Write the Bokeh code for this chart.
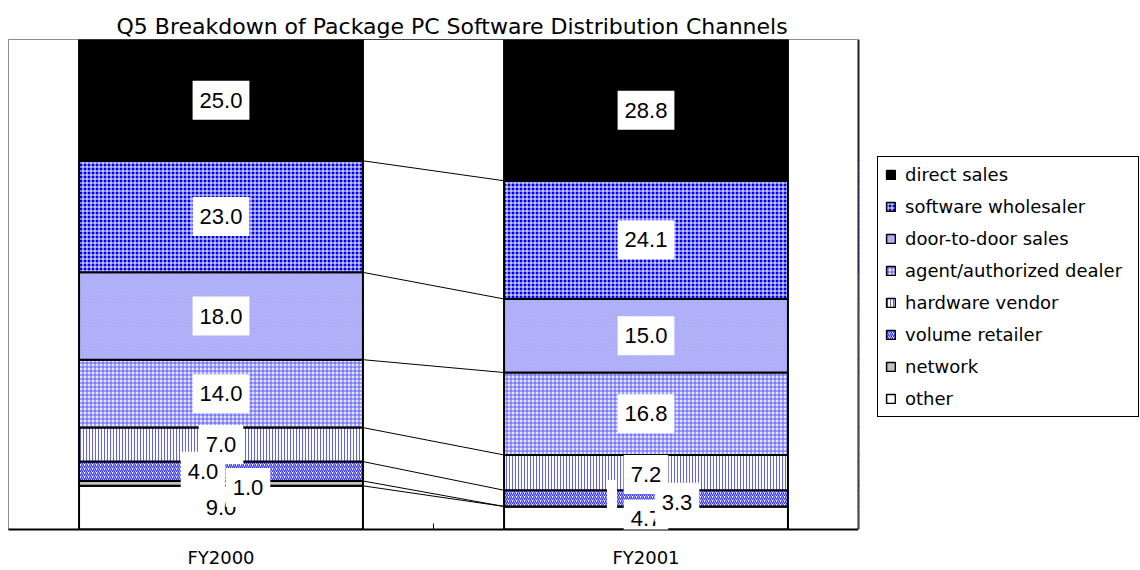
from bokeh.plotting import figure
from bokeh.models import (ColumnDataSource, Range1d, FixedTicker, Legend, LegendItem, Label)
from bokeh.layouts import row
from bokeh.embed import file_html
from bokeh.resources import INLINE
import numpy as np

# ---------------- data ----------------
title_text = "Q5 Breakdown of Package PC Software Distribution Channels"
years = ["FY2000", "FY2001"]
channels = ["other", "network", "volume retailer", "hardware vendor",
            "agent/authorized dealer", "door-to-door sales",
            "software wholesaler", "direct sales"]
fy2000 = [9.0, 1.0, 4.0, 7.0, 14.0, 18.0, 23.0, 25.0]
fy2001 = [4.7, 0.0, 3.3, 7.2, 16.8, 15.0, 24.1, 28.8]
labels_fy2000 = ["9.0", "1.0", "4.0", "7.0", "14.0", "18.0", "23.0", "25.0"]
labels_fy2001 = ["4.7", " ", "3.3", "7.2", "16.8", "15.0", "24.1", "28.8"]

# ---------------- styles ----------------
FONT = "Liberation Sans"
WIDE_FONT = "DejaVu Sans"
BAR_W = 0.668
styles = {
    "other": dict(fill_color="white"),
    "network": dict(fill_color="#c0c0c0"),
    "volume retailer": dict(fill_color="white", hatch_pattern="right_diagonal_line",
                            hatch_color="#3030ff", hatch_scale=4, hatch_weight=1.3),
    "hardware vendor": dict(fill_color="white", hatch_pattern="vertical_line",
                            hatch_color="#6060ff", hatch_scale=3, hatch_weight=1),
    "agent/authorized dealer": dict(fill_color="#e8e8ff", hatch_pattern="cross",
                                    hatch_color="#5858ff", hatch_scale=4, hatch_weight=1),
    "door-to-door sales": dict(fill_color="#c8c8ff", hatch_pattern="left_diagonal_line",
                               hatch_color="#a0a0f4", hatch_scale=3, hatch_weight=1),
    "software wholesaler": dict(fill_color="#0000f0", hatch_pattern="cross",
                                hatch_color="white", hatch_scale=4, hatch_weight=1),
    "direct sales": dict(fill_color="black"),
}
# label offsets in screen px, keyed by (year index, channel)
label_offsets = {
    (0, "volume retailer"): (-18, 0),
    (0, "network"): (27, -4),
    (1, "volume retailer"): (31, -4),
    (1, "network"): (-34, 10),
    (1, "other"): (0, -1),
    (1, "hardware vendor"): (0, -2),
}
LABEL_PAD = dict(x=7, y=12)
label_padding = {(1, "network"): dict(x=2, y=4)}

# ---------------- computation ----------------
vals = np.array([fy2000, fy2001], dtype=float)
pct = vals / vals.sum(axis=1, keepdims=True) * 100.0
tops = np.cumsum(pct, axis=1)
bottoms = tops - pct
xcent = np.arange(len(years)) + 0.5
texts = [labels_fy2000, labels_fy2001]

# ---------------- main chart ----------------
p = figure(width=858, height=570, x_range=Range1d(0, 2), y_range=Range1d(0, 100),
           output_backend="svg", toolbar_location=None, y_axis_location=None,
           min_border_left=8, min_border_right=0, min_border_top=39, min_border_bottom=41,
           background_fill_color="white", border_fill_color="white")
p.grid.visible = False
p.outline_line_color = "#8c8c8c"
p.outline_line_width = 1

sources = {}
for j, ch in enumerate(channels):
    src = ColumnDataSource(dict(x=xcent, top=tops[:, j], bottom=bottoms[:, j]))
    sources[ch] = src
    p.vbar(x="x", top="top", bottom="bottom", width=BAR_W, source=src,
           line_color="black", line_width=2, **styles[ch])

# connector (series) lines between the two bars
seg = ColumnDataSource(dict(x0=[xcent[0] + BAR_W / 2] * len(channels), y0=tops[0],
                            x1=[xcent[1] - BAR_W / 2] * len(channels), y1=tops[1]))
p.segment(x0="x0", y0="y0", x1="x1", y1="y1", source=seg, line_color="black", line_width=1)

# data labels
for j, ch in enumerate(channels):
    for i in range(len(years)):
        dx, dy = label_offsets.get((i, ch), (0, 0))
        p.add_layout(Label(x=xcent[i], y=(tops[i, j] + bottoms[i, j]) / 2,
                           text=texts[i][j], x_offset=dx, y_offset=dy,
                           text_align="center", text_baseline="middle",
                           text_font=FONT, text_font_size="22px", text_color="black",
                           background_fill_color="white",
                           padding=label_padding.get((i, ch), LABEL_PAD)))

# x axis
ax = p.xaxis[0]
ax.ticker = FixedTicker(ticks=list(xcent), minor_ticks=[1.0])
ax.major_label_overrides = {float(x): y for x, y in zip(xcent, years)}
ax.major_tick_in = 0
ax.major_tick_out = 0
ax.minor_tick_in = 6
ax.minor_tick_out = 0
ax.minor_tick_line_color = "black"
ax.axis_line_color = "black"
ax.axis_line_width = 2
ax.axis_label = None
ax.axis_label_standoff = 0
ax.major_label_standoff = 17
ax.major_label_text_font = WIDE_FONT
ax.major_label_text_font_size = "18px"
ax.major_label_text_color = "black"

# title
p.title.text = title_text
p.title.align = "left"
p.title.offset = 108
p.title.text_font = WIDE_FONT
p.title.text_font_size = "22px"
p.title.text_font_style = "normal"
p.title.text_color = "black"
p.title.standoff = 2

# ---------------- legend panel ----------------
# the same bar data, drawn out of view (x range far away) -- only the legend is visible here
lg = figure(width=282, height=570, x_range=Range1d(10, 11), y_range=Range1d(0, 100),
            output_backend="svg", toolbar_location=None,
            x_axis_location=None, y_axis_location=None,
            min_border=0, outline_line_color=None,
            background_fill_color="white", border_fill_color="white")
lg.grid.visible = False
items = []
for ch in reversed(channels):
    r = lg.vbar(x="x", top="top", bottom="bottom", width=BAR_W, source=sources[ch],
                line_color="black", line_width=1.5, **styles[ch])
    items.append(LegendItem(label=ch, renderers=[r]))
legend = Legend(items=items, location=(19, 112), orientation="vertical",
                label_text_font=WIDE_FONT, label_text_font_size="18px",
                label_text_color="black",
                glyph_width=11, glyph_height=11, label_height=21, spacing=11,
                padding=7, margin=0, label_standoff=9, label_width=226,
                border_line_color="black", border_line_width=1, border_line_alpha=1,
                background_fill_color="white", background_fill_alpha=1)
lg.add_layout(legend)

open("out.html", "w").write(file_html(row(p, lg), INLINE))
